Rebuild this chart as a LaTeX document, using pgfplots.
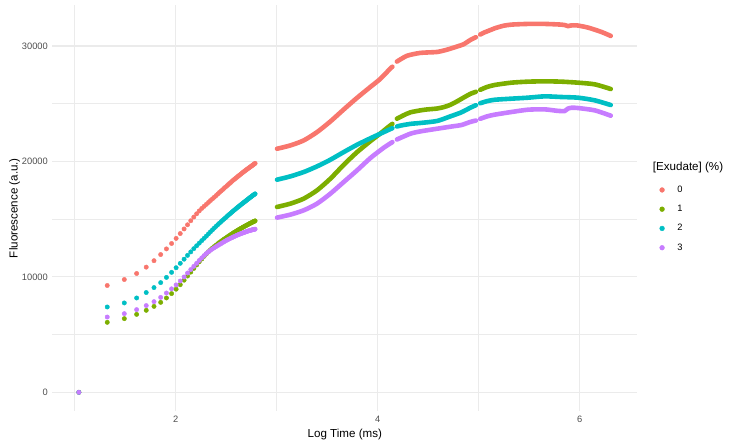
\documentclass[border=0pt]{standalone}
\usepackage{fontspec}
\setmainfont{Liberation Sans}
\usepackage{pgfplots}
\pgfplotsset{compat=1.18}
\usepackage{pgfplotstable}

\definecolor{c0}{HTML}{F8766D}
\definecolor{c1}{HTML}{7CAE00}
\definecolor{c2}{HTML}{00BFC4}
\definecolor{c3}{HTML}{C77CFF}
\definecolor{gridc}{HTML}{EBEBEB}
\definecolor{tickc}{HTML}{4D4D4D}

% early readings, log10(t) for t = 21, 31, ..., 611 ms
\pgfplotstableread{
x r g c p
1.322 9250 6060 7390 6520
1.491 9770 6380 7740 6810
1.613 10290 6750 8170 7160
1.708 10840 7100 8640 7510
1.785 11400 7440 9070 7850
1.851 11930 7790 9500 8220
1.908 12420 8170 9950 8600
1.959 12890 8550 10390 8960
2.004 13330 8930 10790 9300
2.045 13750 9320 11170 9640
2.083 14150 9710 11530 9990
2.117 14510 10070 11860 10330
2.149 14860 10410 12160 10630
2.179 15180 10730 12440 10910
2.207 15460 11030 12690 11170
2.233 15710 11300 12920 11420
2.258 15930 11550 13140 11640
2.281 16110 11780 13340 11840
2.303 16280 11990 13530 12020
2.324 16450 12180 13720 12170
2.344 16610 12350 13900 12300
2.364 16760 12500 14070 12420
2.382 16900 12630 14230 12520
2.400 17040 12750 14380 12620
2.417 17180 12870 14520 12710
2.433 17310 12980 14650 12800
2.449 17430 13080 14780 12880
2.464 17550 13180 14900 12960
2.479 17670 13270 15010 13040
2.493 17780 13350 15120 13110
2.507 17890 13430 15230 13180
2.520 17990 13510 15330 13240
2.533 18090 13590 15430 13300
2.545 18180 13660 15520 13350
2.558 18280 13730 15620 13400
2.569 18370 13800 15700 13450
2.581 18450 13860 15790 13500
2.592 18530 13920 15870 13540
2.603 18610 13980 15950 13590
2.614 18690 14040 16030 13630
2.624 18760 14090 16100 13670
2.634 18830 14140 16170 13700
2.644 18900 14190 16240 13740
2.654 18970 14240 16310 13770
2.664 19040 14290 16380 13800
2.673 19100 14330 16440 13830
2.682 19160 14380 16500 13860
2.691 19220 14420 16560 13890
2.700 19280 14460 16620 13920
2.708 19330 14500 16680 13940
2.717 19390 14540 16740 13970
2.725 19440 14580 16790 13990
2.733 19490 14620 16850 14010
2.741 19540 14650 16900 14030
2.749 19590 14690 16950 14050
2.757 19640 14720 17010 14070
2.764 19690 14760 17060 14090
2.772 19740 14790 17100 14100
2.779 19790 14820 17150 14120
2.786 19830 14850 17190 14130
}\early

\pgfplotsset{
  dots/.style={only marks, mark=*, mark size=2.2bp},
  trace/.style={line width=4.6bp, line cap=round, line join=round, smooth, tension=0.4, forget plot},
}

\begin{document}
\begin{tikzpicture}
\path[use as bounding box] (-52.3bp,-34.3bp) rectangle (679.7bp,410.7bp);
\begin{axis}[
  at={(0,0)}, anchor=south west,
  scale only axis, width=585bp, height=405.2bp,
  xmin=0.778, xmax=6.570, ymin=-1596, ymax=33506,
  xtick={2,4,6}, minor xtick={1,3,5},
  ytick={0,10000,20000,30000}, minor ytick={5000,15000,25000},
  scaled y ticks=false,
  grid=both,
  major grid style={gridc, line width=1.07bp},
  minor grid style={gridc, line width=0.53bp},
  axis line style={draw=none},
  tick style={draw=none},
  /pgf/number format/assume math mode=true,
  /pgf/number format/1000 sep={},
  ticklabel style={font=\fontsize{9.3bp}{11bp}\selectfont, text=tickc, inner sep=0pt},
  xticklabel shift=4.9bp, yticklabel shift=4.3bp,
  xlabel={Log Time (ms)}, ylabel={Fluorescence (a.u.)},
  label style={font=\fontsize{11.6bp}{13bp}\selectfont, inner sep=0pt},
  xlabel style={at={(axis description cs:0.5,-0.0444)}, anchor=north},
  ylabel style={at={(axis description cs:-0.0740,0.5)}, anchor=north},
  legend style={at={(1.0376,0.4735)}, anchor=west, draw=none, fill=none,
    font=\fontsize{9.3bp}{11bp}\selectfont, inner sep=0pt, row sep=11.3bp,
    nodes={inner sep=0pt},
    /tikz/every odd column/.append style={column sep=12.6bp}},
  legend cell align=left,
  legend image code/.code={\fill (2.4bp,0bp) circle (2.4bp);},
]
\addplot[dots, c0, forget plot] coordinates {(1.041,0)};
\addplot[dots, c0] table[x=x, y=r] {\early};
\addlegendentry{0}
\addplot[dots, c1, forget plot] coordinates {(1.041,0)};
\addplot[dots, c1] table[x=x, y=g] {\early};
\addlegendentry{1}
\addplot[dots, c2, forget plot] coordinates {(1.041,0)};
\addplot[dots, c2] table[x=x, y=c] {\early};
\addlegendentry{2}
\addplot[dots, c3, forget plot] coordinates {(1.041,0)};
\addplot[dots, c3] table[x=x, y=p] {\early};
\addlegendentry{3}

% 0 %
\addplot[trace, c0] coordinates {(3.003,21095)(3.135,21383)(3.267,21816)(3.399,22536)(3.531,23458)(3.663,24496)(3.795,25505)(3.927,26450)(4.026,27150)(4.125,28050)(4.145,28200)};
\addplot[trace, c0] coordinates {(4.190,28650)(4.290,29150)(4.422,29400)(4.587,29480)(4.686,29680)(4.785,29950)(4.851,30150)(4.917,30520)(4.972,30760)};
\addplot[trace, c0] coordinates {(5.015,30990)(5.050,31150)(5.116,31380)(5.158,31530)(5.240,31740)(5.323,31850)(5.488,31910)(5.653,31910)(5.818,31850)(5.860,31790)(5.884,31720)(5.910,31770)(5.967,31790)(6.083,31590)(6.215,31214)(6.307,30870)};
% 1 %
\addplot[trace, c1] coordinates {(3.003,16052)(3.135,16340)(3.267,16772)(3.399,17493)(3.531,18501)(3.663,19700)(3.795,20800)(3.927,21750)(4.026,22420)(4.100,22950)(4.145,23250)};
\addplot[trace, c1] coordinates {(4.190,23700)(4.257,24000)(4.323,24250)(4.422,24420)(4.488,24500)(4.587,24580)(4.653,24700)(4.719,24900)(4.785,25200)(4.851,25530)(4.917,25850)(4.972,26030)};
\addplot[trace, c1] coordinates {(5.015,26200)(5.083,26450)(5.158,26620)(5.323,26821)(5.488,26908)(5.653,26937)(5.818,26908)(5.983,26821)(6.149,26676)(6.307,26272)};
% 2 %
\addplot[trace, c2] coordinates {(3.003,18415)(3.135,18703)(3.267,19078)(3.399,19568)(3.531,20144)(3.663,20807)(3.795,21441)(3.927,22000)(4.026,22400)(4.125,22800)(4.145,22870)};
\addplot[trace, c2] coordinates {(4.190,23020)(4.224,23100)(4.323,23250)(4.422,23330)(4.587,23500)(4.719,23900)(4.828,24250)(4.917,24650)(4.972,24870)};
\addplot[trace, c2] coordinates {(5.015,25040)(5.083,25220)(5.158,25340)(5.323,25434)(5.488,25520)(5.653,25636)(5.818,25578)(5.983,25520)(6.149,25289)(6.307,24884)};
% 3 %
\addplot[trace, c3] coordinates {(3.003,15130)(3.135,15389)(3.267,15763)(3.399,16340)(3.531,17204)(3.663,18213)(3.795,19222)(3.927,20288)(4.059,21182)(4.145,21670)};
\addplot[trace, c3] coordinates {(4.190,21900)(4.323,22400)(4.422,22600)(4.587,22830)(4.752,23050)(4.828,23150)(4.917,23420)(4.972,23540)};
\addplot[trace, c3] coordinates {(5.015,23690)(5.083,23900)(5.158,24050)(5.323,24278)(5.488,24480)(5.653,24509)(5.780,24380)(5.850,24360)(5.880,24560)(5.920,24650)(5.983,24625)(6.149,24422)(6.307,23960)};
\end{axis}
\node[anchor=west, inner sep=0pt, font=\fontsize{11.6bp}{13bp}\selectfont] at (600.4bp,242.7bp) {[Exudate] (\%)};
\end{tikzpicture}
\end{document}
